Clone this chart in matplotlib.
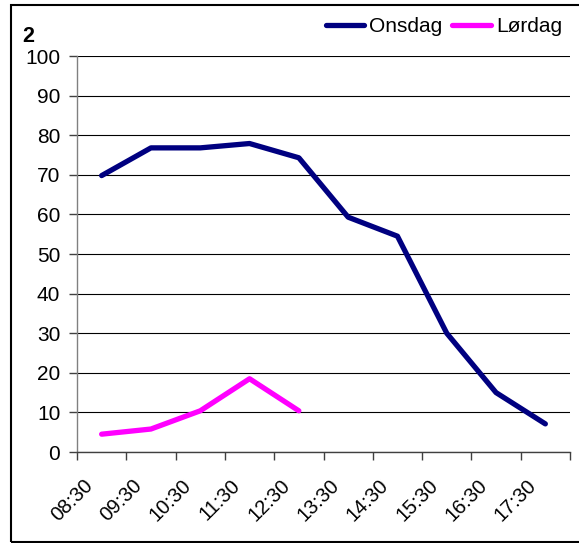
import matplotlib
matplotlib.use("Agg")
import matplotlib.pyplot as plt
import matplotlib.transforms as mtransforms
from matplotlib.patches import Rectangle
import numpy as np

plt.rcParams['font.family'] = ['Liberation Sans', 'DejaVu Sans']

categories = ["08:30", "09:30", "10:30", "11:30", "12:30",
              "13:30", "14:30", "15:30", "16:30", "17:30"]
onsdag = [69.8, 76.8, 76.8, 77.9, 74.3, 59.3, 54.5, 30.0, 15.0, 7.1]
lordag = [4.5, 5.8, 10.4, 18.5, 10.4]
title = "2"

fig = plt.figure(figsize=(5.79, 5.43), dpi=100)
ax = fig.add_axes([77/579, 91/543, 493/579, 396/543])

x_on = np.arange(len(onsdag)) + 0.5
x_lo = np.arange(len(lordag)) + 0.5
ax.plot(x_on, onsdag, color="#000080", lw=3.8, solid_capstyle="round",
        solid_joinstyle="round", label="Onsdag", zorder=3)
ax.plot(x_lo, lordag, color="#FF00FF", lw=3.8, solid_capstyle="round",
        solid_joinstyle="round", label="Lørdag", zorder=3)

ax.set_xlim(0, len(categories))
ax.set_ylim(0, 100)
ax.set_yticks(np.arange(0, 101, 10))
ax.yaxis.grid(True, color="black", lw=0.8)
ax.set_axisbelow(True)

ax.set_xticks(np.arange(0, len(categories) + 1))
ax.set_xticklabels([])
ax.set_xticks(x_on, minor=True)
ax.set_xticklabels(categories, minor=True, rotation=45, ha="right",
                   va="center", rotation_mode="anchor", fontsize=14.5)
ax.tick_params(axis="x", which="minor", length=0, pad=22)
ax.tick_params(axis="x", which="major", length=6, width=1, color="#404040")
ax.tick_params(axis="y", length=6, width=1, color="#404040", labelsize=15, pad=6)

offset = mtransforms.ScaledTranslation(-12/100, 0, fig.dpi_scale_trans)
for lab in ax.xaxis.get_minorticklabels():
    lab.set_transform(lab.get_transform() + offset)

for s in ["top", "right"]:
    ax.spines[s].set_visible(False)
ax.spines["left"].set_color("#808080")
ax.spines["bottom"].set_color("#404040")
ax.spines["left"].set_linewidth(1)
ax.spines["bottom"].set_linewidth(1)

fig.text(22/579, 1 - 36/543, title, fontsize=15.5, fontweight="bold",
         ha="left", va="center")

leg = fig.legend(loc="center right", bbox_to_anchor=(562/579, 1 - 27/543),
                 ncol=2, frameon=False, fontsize=15, handlelength=1.85,
                 handletextpad=0.25, columnspacing=0.45, borderpad=0,
                 borderaxespad=0)
for h in leg.get_lines():
    h.set_linewidth(3.8)
    h.set_solid_capstyle("round")

fig.patches.append(Rectangle((11/579, 1/543), 1.2, 537/543, transform=fig.transFigure,
                             fill=False, edgecolor="black", lw=1.5, clip_on=False))

fig.savefig("out.png", dpi=100)
